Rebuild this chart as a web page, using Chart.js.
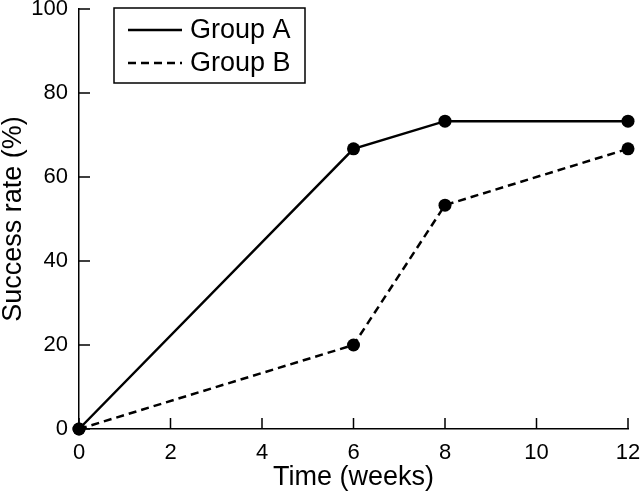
<!DOCTYPE html>
<html>
<head>
<meta charset="utf-8">
<script src="https://cdn.jsdelivr.net/npm/chart.js@4.4.1/dist/chart.umd.min.js"></script>
<style>
  body { margin: 0; background: #fff; }
  canvas { display: block; }
</style>
</head>
<body>
<canvas id="chart" width="640" height="492"></canvas>
<script>
// values
const weeks = [0, 6, 8, 12];
const groupA = [0, 66.7, 73.3, 73.3];
const groupB = [0, 20, 53.3, 66.7];
const seriesNames = ['Group A', 'Group B'];
const xTickValues = [0, 2, 4, 6, 8, 10, 12];
const yTickValues = [0, 20, 40, 60, 80, 100];

Chart.defaults.font.family = '"Liberation Sans", Arial, Helvetica, sans-serif';
Chart.defaults.color = '#000';

// ticks pointing into the plot
const inwardTicks = {
  id: 'inwardTicks',
  afterDraw(chart) {
    const ctx = chart.ctx;
    const area = chart.chartArea;
    const x = chart.scales.x;
    const y = chart.scales.y;
    ctx.save();
    ctx.strokeStyle = '#000';
    ctx.lineWidth = 1.5;
    ctx.beginPath();
    xTickValues.forEach((v) => {
      const px = x.getPixelForValue(v);
      ctx.moveTo(px, area.bottom);
      ctx.lineTo(px, area.bottom - 11);
    });
    yTickValues.forEach((v) => {
      const py = y.getPixelForValue(v);
      ctx.moveTo(area.left, py);
      ctx.lineTo(area.left + 11, py);
    });
    ctx.stroke();
    ctx.restore();
  }
};

// boxed legend in the top left of the plot
const boxLegend = {
  id: 'boxLegend',
  afterDraw(chart) {
    const ctx = chart.ctx;
    const area = chart.chartArea;
    const left = area.left + 35;
    const top = area.top - 1;
    ctx.save();
    ctx.strokeStyle = '#000';
    ctx.lineWidth = 1.5;
    ctx.strokeRect(left, top, 191, 75);
    ctx.font = '27px "Liberation Sans", Arial, sans-serif';
    ctx.fillStyle = '#000';
    ctx.textBaseline = 'middle';
    chart.data.datasets.forEach((ds, i) => {
      const ly = top + 22 + i * 33;
      ctx.lineWidth = ds.borderWidth;
      ctx.setLineDash(ds.borderDash || []);
      ctx.beginPath();
      ctx.moveTo(left + 14, ly);
      ctx.lineTo(left + 68, ly);
      ctx.stroke();
      ctx.setLineDash([]);
      ctx.fillText(ds.label, left + 76, ly + 1);
    });
    ctx.restore();
  }
};

// keep the plot edges where the figure has them, labels may overhang
function noOverhang(scale) {
  scale.paddingTop = 0;
  scale.paddingBottom = 0;
  scale.paddingLeft = 0;
  scale.paddingRight = 0;
}

new Chart(document.getElementById('chart'), {
  type: 'line',
  data: {
    datasets: [
      {
        label: seriesNames[0],
        data: weeks.map((w, i) => ({ x: w, y: groupA[i] })),
        borderColor: '#000',
        backgroundColor: '#000',
        borderWidth: 2.5,
        pointRadius: 6.5,
        pointBackgroundColor: '#000',
        pointBorderWidth: 0,
        tension: 0,
        clip: false,
      },
      {
        label: seriesNames[1],
        data: weeks.map((w, i) => ({ x: w, y: groupB[i] })),
        borderColor: '#000',
        backgroundColor: '#000',
        borderWidth: 2.5,
        borderDash: [8, 5],
        pointRadius: 6.5,
        pointBackgroundColor: '#000',
        pointBorderWidth: 0,
        tension: 0,
        clip: false,
      },
    ],
  },
  options: {
    responsive: false,
    animation: false,
    layout: { padding: { top: 9, right: 12, left: 0, bottom: 0 } },
    plugins: {
      legend: { display: false },
      tooltip: { enabled: false },
    },
    scales: {
      x: {
        type: 'linear',
        min: 0,
        max: 12,
        afterFit: (scale) => { scale.height = 63; noOverhang(scale); },
        afterBuildTicks: (scale) => { scale.ticks = xTickValues.map((v) => ({ value: v })); },
        grid: { display: true, drawOnChartArea: false, drawTicks: false },
        border: { display: true, color: '#000', width: 1.5 },
        ticks: { font: { size: 22 }, padding: 11, maxRotation: 0 },
        title: {
          display: true,
          text: 'Time (weeks)',
          font: { size: 27, lineHeight: 1 },
          padding: { top: 0, bottom: 1 },
        },
      },
      y: {
        min: 0,
        max: 100,
        afterFit: (scale) => { scale.width = 79; noOverhang(scale); },
        afterBuildTicks: (scale) => { scale.ticks = yTickValues.map((v) => ({ value: v })); },
        grid: { display: true, drawOnChartArea: false, drawTicks: false },
        border: { display: true, color: '#000', width: 1.5 },
        ticks: { font: { size: 22 }, padding: 11 },
        title: {
          display: true,
          text: 'Success rate (%)',
          font: { size: 27, lineHeight: 1 },
          padding: { top: 0, bottom: 0 },
        },
      },
    },
  },
  plugins: [inwardTicks, boxLegend],
});
</script>
</body>
</html>
